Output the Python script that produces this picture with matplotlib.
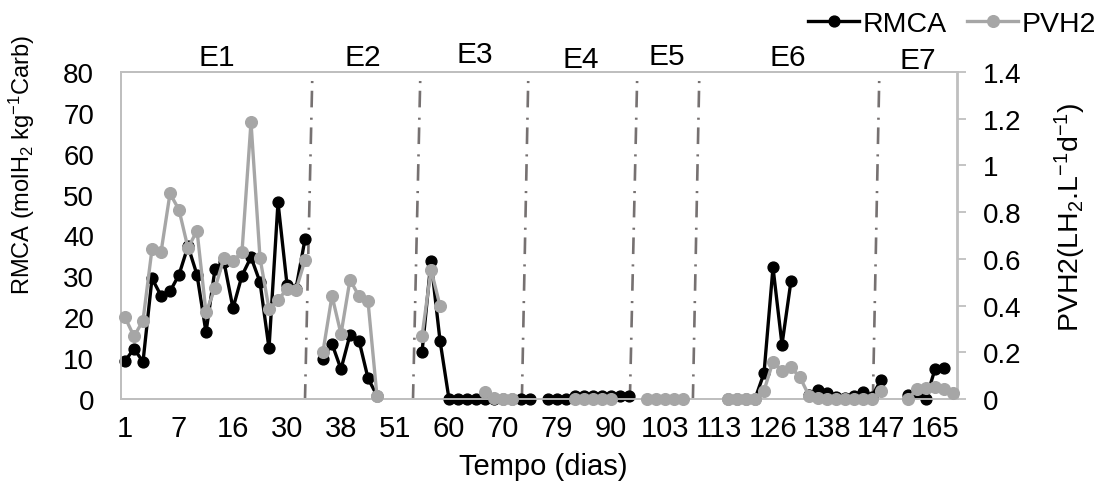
import matplotlib

matplotlib.use("Agg")
import matplotlib.pyplot as plt
import matplotlib.transforms as mtransforms
import numpy as np
from matplotlib.lines import Line2D

plt.rcParams["font.family"] = ["Liberation Sans", "DejaVu Sans"]
plt.rcParams["mathtext.fontset"] = "custom"
plt.rcParams["mathtext.rm"] = "Liberation Sans"
plt.rcParams["mathtext.it"] = "Liberation Sans:italic"
plt.rcParams["mathtext.bf"] = "Liberation Sans:bold"

# one entry per sampling (category axis); None = no sample
TICK_DAYS = ["1", "7", "16", "30", "38", "51", "60", "70", "79", "90",
             "103", "113", "126", "138", "147", "165"]
STAGES = ["E1", "E2", "E3", "E4", "E5", "E6", "E7"]
# stage separators, category position at bottom / top of the line
STAGE_BOUNDS = [(20.0, 20.8), (32.0, 32.8), (44.1, 44.8), (56.1, 56.9), (63.1, 63.8), (83.1, 83.8)]

RMCA = [
    9.3, 12.3, 9.1, 29.5, 25.3, 26.3, 30.4, 37.4, 30.4, 16.3,
    31.8, 33.5, 22.2, 30.2, 34.7, 28.6, 12.4, 48.1, 28.0, 27.0,
    39.1, None, 9.8, 13.5, 7.3, 15.7, 14.3, 5.1, 0.8, None,
    None, None, None, 11.4, 33.8, 14.3, 0, 0, 0, 0,
    0, 0, 0, 0, 0, 0, None, 0, 0, 0,
    0.8, 0.8, 0.8, 0.8, 0.8, 0.8, 0.8, None, None, None,
    None, None, None, None, None, None, None, 0, 0, 0,
    0, 6.3, 32.2, 13.3, 28.9, None, 1.0, 2.2, 1.4, 0.5,
    0.3, 0.8, 1.8, 0.6, 4.7, None, None, 1.1, 1.5, 0,
    7.3, 7.7, None,
]

PVH2 = [
    0.350, 0.268, 0.336, 0.642, 0.628, 0.880, 0.810, 0.646, 0.721, 0.371,
    0.474, 0.604, 0.590, 0.630, 1.185, 0.604, 0.385, 0.424, 0.471, 0.467,
    0.595, None, 0.203, 0.442, 0.278, 0.511, 0.440, 0.418, 0.011, None,
    None, None, None, 0.268, 0.554, 0.399, None, None, None, None,
    0.029, 0.005, 0, 0, None, None, None, None, None, None,
    0, 0, 0, 0, 0, None, None, None, 0, 0,
    0, 0, 0, None, None, None, None, 0, 0, 0,
    0, 0.036, 0.160, 0.121, 0.135, 0.093, 0.014, 0.004, 0, 0,
    0, 0, 0, 0, 0.036, None, None, 0, 0.043, 0.049,
    0.051, 0.043, 0.027,
]

W, H = 1096, 489
GREY_LINE = "#a6a6a6"
FRAME = "#bfbfbf"

rmca = np.array(RMCA, dtype=float)
pvh2 = np.array(PVH2, dtype=float)
x = np.arange(len(rmca))

fig = plt.figure(figsize=(W / 100, H / 100), dpi=100)
ax = fig.add_axes([120.5 / W, 89 / H, 837 / W, 327 / H])
ax2 = ax.twinx()

for xb, xt in STAGE_BOUNDS:
    ax.plot([xt, xb], [77.8, 0], color="#767171", lw=1.9,
            ls=(0, (0.8, 2.9, 6.3, 3.9)), dash_capstyle="butt", zorder=1)

ax.plot(x, rmca, color="black", lw=2.4, marker="o", ms=7.8, clip_on=False, zorder=3)
ax2.plot(x, pvh2, color=GREY_LINE, lw=2.4, marker="o", ms=8.4, clip_on=False, zorder=3)

ax.set_xlim(-0.5, len(x) - 0.5)
ax.set_ylim(0, 80)
ax2.set_ylim(0, 1.4)
ax.set_yticks(np.arange(0, 81, 10))
ax2.set_yticks(np.arange(0, 1.41, 0.2))
ax2.set_yticklabels([f"{v:g}" for v in np.arange(0, 1.41, 0.2)])
ax.set_xticks(np.arange(0, len(x), 6))
ax.set_xticklabels(TICK_DAYS)

for a in (ax, ax2):
    for s in a.spines.values():
        s.set_color(FRAME)
        s.set_linewidth(1.3)
ax.tick_params(axis="x", length=0, labelsize=21, pad=11)
ax.tick_params(axis="y", length=0, labelsize=20, pad=19)
ax2.tick_params(axis="y", length=6.5, width=1.3, color=FRAME, direction="out",
                labelsize=20, pad=11.5)

# stage names above the plot
stage_x = [10.2, 26.4, 38.9, 50.6, 60.2, 73.7, 88.1]
stage_y = [1.046, 1.046, 1.055, 1.040, 1.049, 1.046, 1.037]
trans = mtransforms.blended_transform_factory(ax.transData, ax.transAxes)
for name, sx, sy in zip(STAGES, stage_x, stage_y):
    ax.text(sx, sy, name, transform=trans, ha="center", va="center", fontsize=21.5)

fig.text(22 / W, 1 - 165 / H, r"RMCA (molH$_2$ kg$^{-1}$Carb)", rotation=90,
         ha="center", va="center", fontsize=17)
fig.text(1070 / W, 1 - 217 / H, r"PVH2(LH$_2$.L$^{-1}$d$^{-1}$)", rotation=90,
         ha="center", va="center", fontsize=20.5)
fig.text(543 / W, 1 - 467 / H, "Tempo (dias)", ha="center", va="center", fontsize=21)

handles = [
    Line2D([], [], color="black", lw=2.4, marker="o", ms=7.8),
    Line2D([], [], color=GREY_LINE, lw=2.4, marker="o", ms=8.4),
]
fig.legend(handles, ["RMCA", "PVH2"], loc="center right", bbox_to_anchor=(1.0, 1 - 25 / H),
           ncol=2, frameon=False, fontsize=20.5, handlelength=1.8, handletextpad=0.12,
           columnspacing=0.7, borderaxespad=0, borderpad=0)

fig.savefig("out.png", dpi=100)
